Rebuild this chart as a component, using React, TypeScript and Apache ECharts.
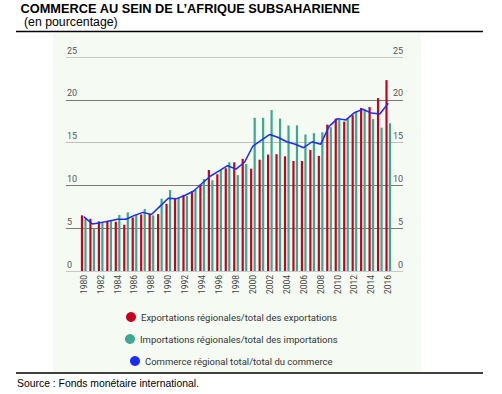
import React, { useEffect, useRef } from "react";
import * as echarts from "echarts";

const years = Array.from({ length: 37 }, (_, i) => String(1980 + i));

const exportsShare = [
  6.5, 6.1, 5.8, 5.85, 5.75, 5.4, 6.25, 6.6, 6.65, 6.65,
  7.85, 8.45, 8.9, 9.3, 10.1, 11.8, 11.3, 12.0, 12.7, 13.1,
  11.95, 13.0, 13.6, 13.65, 13.4, 12.85, 12.85, 14.15, 13.45, 17.1,
  17.8, 17.45, 18.2, 19.05, 19.15, 20.2, 22.3,
];

const importsShare = [
  6.1, 4.95, 5.75, 5.9, 6.55, 6.85, 6.6, 7.25, 6.5, 8.45,
  9.45, 8.55, 8.75, 9.5, 10.75, 10.6, 11.8, 12.7, 11.2, 12.5,
  17.9, 17.9, 18.8, 17.8, 17.0, 17.0, 15.95, 16.1, 16.2, 16.8,
  17.8, 17.8, 18.65, 18.85, 17.75, 16.75, 17.25,
];

const totalShare = [
  6.35, 5.5, 5.65, 5.85, 6.05, 6.05, 6.5, 6.85, 6.6, 7.55,
  8.5, 8.45, 8.85, 9.35, 10.25, 11.1, 11.7, 12.3, 11.9, 12.7,
  14.6, 15.3, 15.95, 15.6, 15.1, 14.8, 14.4, 15.1, 14.8, 16.9,
  17.8, 17.65, 18.5, 18.9, 18.45, 18.35, 19.6,
];

const seriesNames = [
  "Exportations régionales/total des exportations",
  "Importations régionales/total des importations",
  "Commerce régional total/total du commerce",
];

const titleText = "COMMERCE AU SEIN DE L\u2019AFRIQUE SUBSAHARIENNE";
const subtitleText = "(en pourcentage)";
const sourceText = "Source : Fonds monétaire international.";

const RED = "#c8001e";
const TEAL = "#3ba88f";
const BLUE = "#1a2cf5";

export default function App() {
  const ref = useRef<HTMLDivElement>(null);

  useEffect(() => {
    if (!ref.current) return;
    const chart = echarts.init(ref.current, undefined, { renderer: "svg" });
    const labelFont = { fontFamily: "Roboto", fontSize: 9, color: "#555" };
    const legendBase = {
      orient: "horizontal",
      icon: "circle",
      itemWidth: 10,
      itemHeight: 10,
      itemGap: 6,
      padding: 0,
      textStyle: { fontFamily: "Roboto", fontSize: 9.5, color: "#333" },
    };
    chart.setOption({
      animation: false,
      backgroundColor: "#ffffff",
      title: [
        {
          text: titleText,
          left: 20.5,
          top: 2,
          padding: 0,
          textStyle: { fontFamily: "Liberation Sans", fontWeight: "bold", fontSize: 12.8, lineHeight: 13, color: "#000" },
        },
        {
          text: subtitleText,
          left: 24,
          top: 16,
          padding: 0,
          textStyle: { fontFamily: "Liberation Sans", fontWeight: "normal", fontSize: 12.3, lineHeight: 12.5, color: "#000" },
        },
        {
          text: sourceText,
          left: 17,
          top: 378,
          padding: 0,
          textStyle: { fontFamily: "Liberation Sans", fontWeight: "normal", fontSize: 10.4, color: "#000" },
        },
      ],
      graphic: [
        {
          type: "rect",
          z: -10,
          shape: { x: 53, y: 33, width: 368, height: 339 },
          style: { fill: "#f5fbf3" },
          silent: true,
        },
        {
          type: "line",
          shape: { x1: 16, y1: 31.5, x2: 483, y2: 31.5 },
          style: { stroke: "#000", lineWidth: 1.5 },
          silent: true,
        },
        {
          type: "line",
          shape: { x1: 16, y1: 373, x2: 483, y2: 373 },
          style: { stroke: "#000", lineWidth: 1.5 },
          silent: true,
        },
      ],
      legend: [
        { ...legendBase, data: [seriesNames[0]], left: 126, top: 312 },
        { ...legendBase, data: [seriesNames[1]], left: 125, top: 334 },
        { ...legendBase, data: [seriesNames[2]], left: 130, top: 356 },
      ],
      grid: [
        { left: 66, right: 99, top: 57, bottom: 123 },
        { left: 79.5, right: 109.5, top: 57, bottom: 123 },
      ],
      xAxis: [
        { gridIndex: 0, type: "value", min: 0, max: 1, show: false },
        {
          gridIndex: 1,
          type: "category",
          data: years,
          axisLine: { show: false },
          axisTick: { show: false },
          axisLabel: { ...labelFont, fontSize: 8.5, color: "#444", rotate: 90, interval: 1, margin: 4 },
        },
      ],
      yAxis: [
        {
          gridIndex: 0,
          type: "value",
          position: "left",
          min: 0,
          max: 25,
          interval: 5,
          axisLine: { show: false },
          axisTick: { show: false },
          axisLabel: { ...labelFont, inside: true, margin: 1, verticalAlign: "bottom", padding: [0, 0, 2, 0] },
          splitLine: {
            show: true,
            lineStyle: { width: 1, color: ["#c8c8c8", "#7a7a7a", "#7a7a7a", "#bdbdbd", "#7a7a7a", "#c8c8c8"] },
          },
        },
        {
          gridIndex: 0,
          type: "value",
          position: "right",
          min: 0,
          max: 25,
          interval: 5,
          axisLine: { show: false },
          axisTick: { show: false },
          axisLabel: { ...labelFont, inside: true, margin: 0, verticalAlign: "bottom", padding: [0, 0, 2, 0] },
          splitLine: { show: false },
        },
        { gridIndex: 1, type: "value", min: 0, max: 25, show: false, splitLine: { show: false } },
      ],
      series: [
        {
          name: seriesNames[0],
          type: "bar",
          xAxisIndex: 1,
          yAxisIndex: 2,
          data: exportsShare,
          barWidth: 2.2,
          barGap: "60%",
          itemStyle: { color: RED },
        },
        {
          name: seriesNames[1],
          type: "bar",
          xAxisIndex: 1,
          yAxisIndex: 2,
          data: importsShare,
          barWidth: 2.2,
          barGap: "60%",
          itemStyle: { color: TEAL },
        },
        {
          name: seriesNames[2],
          type: "line",
          xAxisIndex: 1,
          yAxisIndex: 2,
          data: totalShare,
          showSymbol: false,
          symbol: "circle",
          lineStyle: { color: BLUE, width: 1.5 },
          itemStyle: { color: BLUE },
        },
      ],
    });
    return () => chart.dispose();
  }, []);

  return (
    <div
      ref={ref}
      style={{ position: "absolute", left: 0, top: 0, width: 502, height: 394 }}
    />
  );
}
